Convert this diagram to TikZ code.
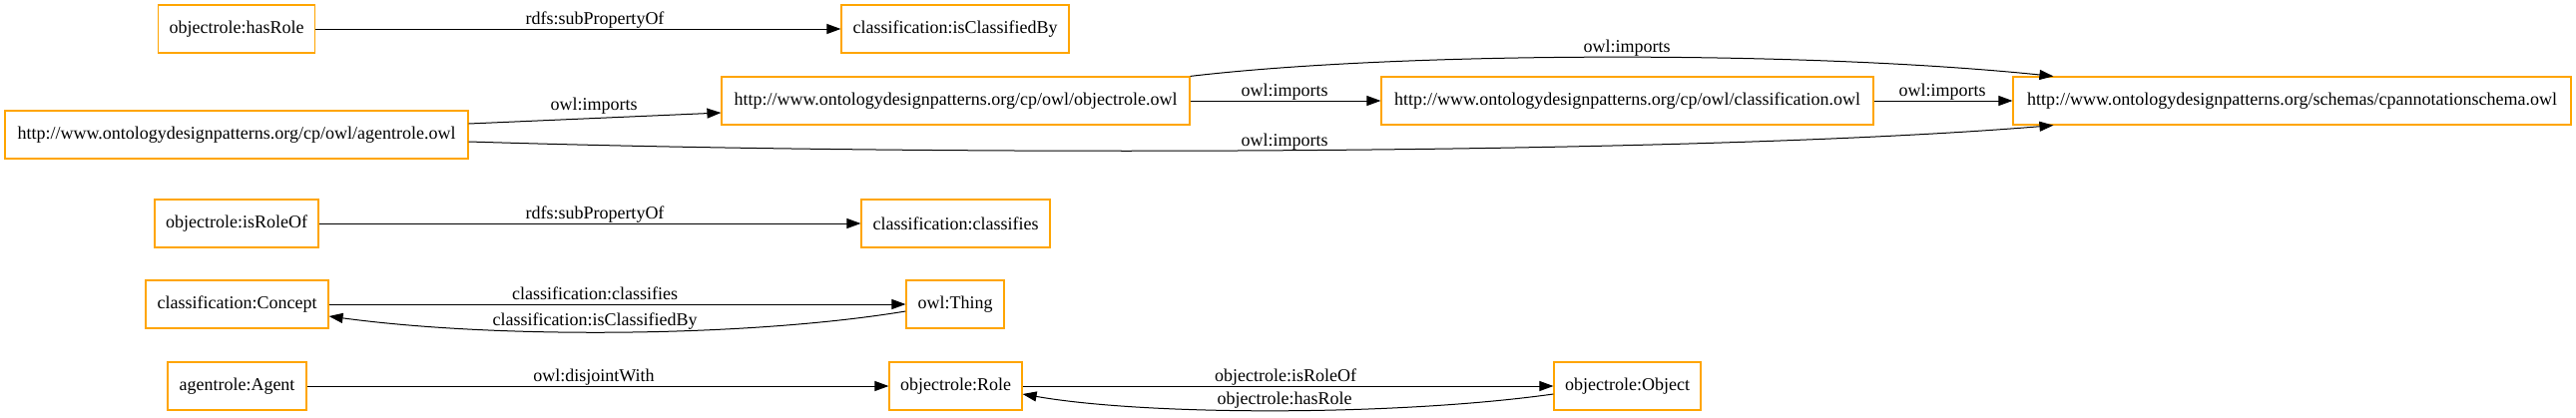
\documentclass[tikz,border=0pt]{standalone}
\usepackage{fontspec}
\setmainfont{Liberation Serif}
\usetikzlibrary{arrows.meta,calc}
\definecolor{gvorange}{HTML}{FFA500}
\tikzset{
  box/.style={draw=gvorange, line width=1.2pt, inner sep=0pt, minimum height=48pt,
    font=\fontsize{18}{20}\selectfont, text=black},
  edge/.style={draw=black, line width=1pt, -{Triangle[length=14pt,width=10pt]}},
  lbl/.style={font=\fontsize{18}{20}\selectfont, anchor=base, inner sep=0pt}
}
\begin{document}
\begin{tikzpicture}[x=1pt,y=-1pt]
\useasboundingbox (0,0) rectangle (2581,418);
% nodes
\node[box, minimum width=157pt] (hasRole) at (237,29) {objectrole:hasRole};
\node[box, minimum width=228pt] (isCB) at (957,29) {classification:isClassifiedBy};
\node[box, minimum width=464pt] (agentowl) at (237,135) {http://www.ontologydesignpatterns.org/cp/owl/agentrole.owl};
\node[box, minimum width=469pt] (objectowl) at (957.5,101) {http://www.ontologydesignpatterns.org/cp/owl/objectrole.owl};
\node[box, minimum width=493pt] (classowl) at (1630.5,101) {http://www.ontologydesignpatterns.org/cp/owl/classification.owl};
\node[box, minimum width=559pt] (cpann) at (2296.5,101) {http://www.ontologydesignpatterns.org/schemas/cpannotationschema.owl};
\node[box, minimum width=164pt] (isRoleOf) at (237,224) {objectrole:isRoleOf};
\node[box, minimum width=189pt] (classifies) at (957.5,224) {classification:classifies};
\node[box, minimum width=183pt] (concept) at (237.5,305) {classification:Concept};
\node[box, minimum width=98pt] (thing) at (957,305) {owl:Thing};
\node[box, minimum width=139pt] (agent) at (237.5,387) {agentrole:Agent};
\node[box, minimum width=133pt] (role) at (957.5,387) {objectrole:Role};
\node[box, minimum width=147pt] (object) at (1630.5,387) {objectrole:Object};
% edges
\draw[edge] (hasRole.east) -- (isCB.west);
\draw[edge] ([yshift=11pt]agentowl.east) -- ([yshift=-12pt]objectowl.west);
\draw[edge] ([yshift=-7pt]agentowl.east) .. controls (950,157) and (1700,155) .. ([xshift=41pt]cpann.south west);
\draw[edge] (objectowl.north east) .. controls (1400,52) and (1800,50) .. ([xshift=41pt]cpann.north west);
\draw[edge] (objectowl.east) -- (classowl.west);
\draw[edge] (classowl.east) -- (cpann.west);
\draw[edge] (isRoleOf.east) -- (classifies.west);
\draw[edge] (concept.east) -- (thing.west);
\draw[edge] ([yshift=-7pt]thing.west) .. controls (750,338) and (500,340) .. ([yshift=-12pt]concept.east);
\draw[edge] (agent.east) -- (role.west);
\draw[edge] (role.east) -- (object.west);
\draw[edge] ([yshift=-8pt]object.west) .. controls (1400,417) and (1150,417) .. ([yshift=-8pt]role.east);
% labels
\node[lbl] (l1) at (596,24) {rdfs:subPropertyOf};
\node[lbl] (l2) at (595,110) {owl:imports};
\node[lbl] (l3) at (1287,96) {owl:imports};
\node[lbl] (l4) at (1287,146) {owl:imports};
\node[lbl] (l5) at (1630,52) {owl:imports};
\node[lbl] (l6) at (1946,96) {owl:imports};
\node[lbl] (l7) at (596,219) {rdfs:subPropertyOf};
\node[lbl] (l8) at (596,300) {classification:classifies};
\node[lbl] (l9) at (596,326) {classification:isClassifiedBy};
\node[lbl] (l10) at (595,382) {owl:disjointWith};
\node[lbl] (l11) at (1288,382) {objectrole:isRoleOf};
\node[lbl] (l12) at (1287,405) {objectrole:hasRole};
\end{tikzpicture}
\end{document}
